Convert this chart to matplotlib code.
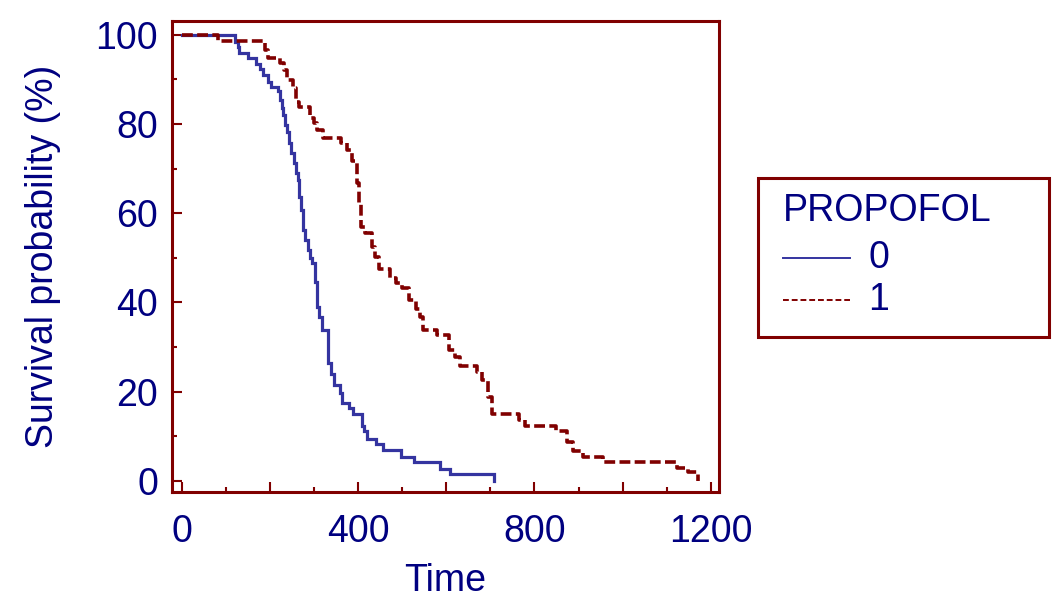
import matplotlib
matplotlib.use("Agg")
import matplotlib.pyplot as plt
from matplotlib.lines import Line2D
from matplotlib.patches import Rectangle
from matplotlib.ticker import MultipleLocator, FuncFormatter

plt.rcParams['font.family'] = ['Liberation Sans', 'DejaVu Sans']

# Kaplan-Meier estimates: event times and survival (%) right after each event
time_0 = [121, 126, 130, 149, 168, 176, 183, 194, 201, 217, 222, 226, 230, 234,
          238, 243, 248, 254, 258, 262, 266, 271, 275, 278, 285, 290, 296, 301,
          306, 311, 318, 331, 337, 345, 358, 364, 378, 389, 409, 414, 420, 441,
          456, 496, 527, 585, 609, 709]
surv_0 = [98.4, 97.3, 96.0, 94.8, 93.4, 92.4, 91.0, 89.5, 88.4, 87.3, 85.5, 83.6,
          82.0, 79.8, 78.3, 75.7, 73.5, 71.3, 69.0, 67.5, 63.7, 60.8, 56.3, 54.0,
          51.8, 50.0, 48.9, 44.6, 39.0, 36.8, 33.9, 26.5, 24.0, 21.5, 19.7, 17.4,
          16.3, 15.0, 12.2, 11.1, 9.3, 8.3, 7.0, 5.3, 4.3, 2.7, 1.6, 0.0]

time_1 = [81, 188, 194, 222, 232, 239, 251, 258, 266, 290, 300, 307, 320, 360,
          375, 386, 398, 401, 407, 415, 432, 439, 447, 472, 485, 500, 515, 530,
          541, 548, 579, 605, 620, 632, 670, 681, 695, 704, 764, 779, 850, 874,
          888, 910, 955, 1123, 1149, 1172]
surv_1 = [98.7, 96.6, 94.8, 93.7, 92.2, 89.9, 88.0, 85.0, 83.9, 81.4, 80.2, 78.7,
          76.8, 75.7, 74.2, 71.6, 66.7, 62.3, 57.0, 55.5, 52.5, 50.3, 47.5, 45.4,
          44.3, 43.2, 40.6, 38.5, 36.8, 33.9, 32.7, 29.4, 27.8, 25.8, 24.5, 22.6,
          18.8, 15.0, 13.7, 12.3, 11.1, 8.8, 6.8, 5.4, 4.2, 2.8, 1.9, 0.0]

group_labels = ["0", "1"]
legend_title = "PROPOFOL"
x_label = "Time"
y_label = "Survival probability (%)"

NAVY = "#000080"
MAROON = "#800000"
BLUE = "#3434A0"
FS = 27

W, H = 1052, 597
fig = plt.figure(figsize=(W / 100, H / 100), dpi=100)
ax = fig.add_axes([172 / W, (H - 492) / H, (719 - 172) / W, (492 - 21) / H])

ax.step([0] + time_0, [100] + surv_0, where="post", color=BLUE, lw=2.3,
        solid_joinstyle="miter")
ax.step([0] + time_1, [100] + surv_1, where="post", color=MAROON, lw=2.6,
        linestyle=(0, (3.0, 1.2)))

ax.set_xlim(-23, 1219)
ax.set_ylim(-2.5, 103.1)

for side in ax.spines.values():
    side.set_color(MAROON)
    side.set_linewidth(2.2)

ax.xaxis.set_major_locator(MultipleLocator(200))
ax.xaxis.set_minor_locator(MultipleLocator(100))
ax.xaxis.set_major_formatter(FuncFormatter(lambda v, p: f"{v:.0f}" if round(v) % 400 == 0 else ""))
ax.yaxis.set_major_locator(MultipleLocator(20))
ax.yaxis.set_minor_locator(MultipleLocator(10))

ax.tick_params(which="both", direction="in", color=MAROON, width=1.5,
               labelcolor=NAVY, labelsize=FS)
ax.tick_params(which="major", length=7.2)
ax.tick_params(which="minor", length=3.6)
ax.tick_params(axis="y", pad=10)
ax.tick_params(axis="x", pad=16)

ax.set_xlabel(x_label, color=NAVY, fontsize=FS, labelpad=9)
ax.set_ylabel(y_label, color=NAVY, fontsize=FS, labelpad=25)

# legend panel
fig.add_artist(Rectangle((758 / W, 1 - 337 / H), 291 / W, 159 / H,
                         transform=fig.transFigure, fill=False,
                         edgecolor=MAROON, lw=2.2))
fig.text(783 / W, 1 - 211 / H, legend_title, color=NAVY, fontsize=FS,
         ha="left", va="center")
fig.add_artist(Line2D([783 / W, 850 / W], [1 - 258 / H] * 2,
                      transform=fig.transFigure, color=BLUE, lw=1.4))
fig.add_artist(Line2D([783 / W, 850 / W], [1 - 300 / H] * 2,
                      transform=fig.transFigure, color=MAROON, lw=1.4,
                      linestyle=(0, (3, 1.5))))
fig.text(868 / W, 1 - 258 / H, group_labels[0], color=NAVY, fontsize=FS,
         ha="left", va="center")
fig.text(868 / W, 1 - 300 / H, group_labels[1], color=NAVY, fontsize=FS,
         ha="left", va="center")

fig.savefig("out.png", dpi=100)
